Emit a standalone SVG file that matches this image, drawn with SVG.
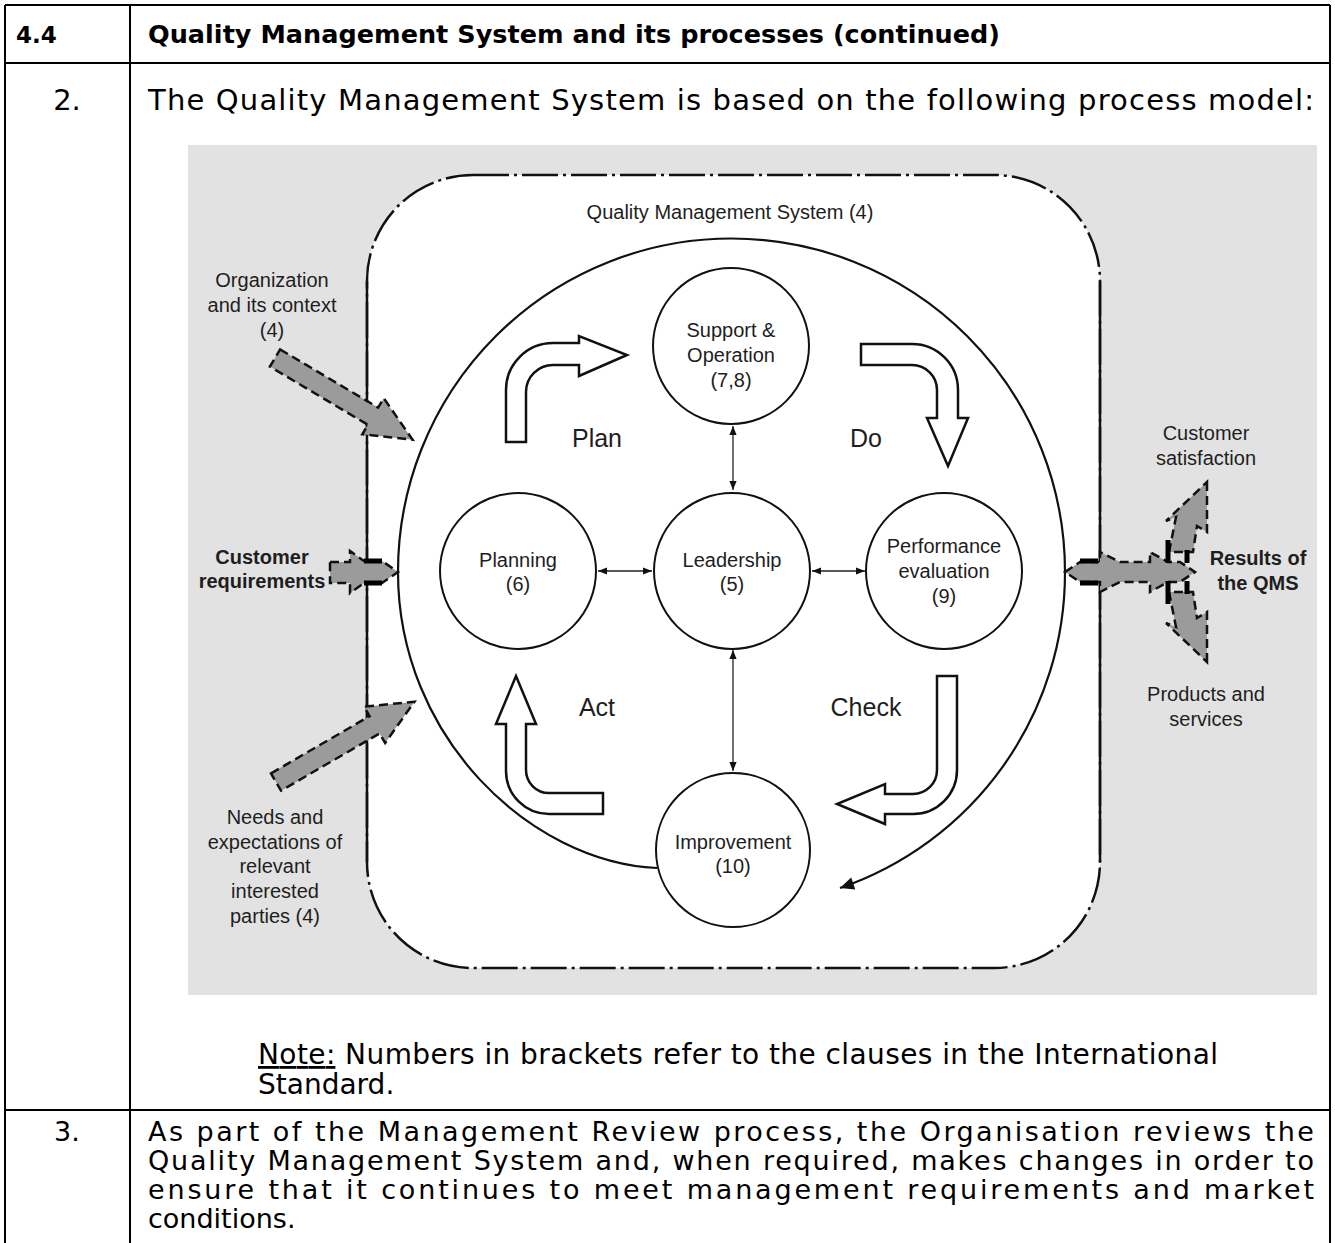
<svg xmlns="http://www.w3.org/2000/svg" width="1335" height="1243" viewBox="0 0 1335 1243">
<defs>
<style>
.tl{stroke:#000;stroke-width:2;fill:none}
.tb{font-family:"DejaVu Sans",sans-serif;font-size:27px;fill:#000}
.hd{font-family:"DejaVu Sans",sans-serif;font-size:25.5px;font-weight:bold;fill:#000}
.lb{font-family:"Liberation Sans",Arial,sans-serif;font-size:20px;fill:#1e1e1e;text-anchor:middle}
.lbb{font-family:"Liberation Sans",Arial,sans-serif;font-size:20px;fill:#1e1e1e;text-anchor:middle;font-weight:bold}
.big{font-family:"Liberation Sans",Arial,sans-serif;font-size:25px;fill:#1e1e1e;text-anchor:middle}
.nd{fill:#fff;stroke:#111;stroke-width:2}
.wa{fill:#fff;stroke:#111;stroke-width:2.5;stroke-linejoin:miter}
.ga{fill:#9b9b9b;stroke:#111;stroke-width:2.5;stroke-dasharray:9 5;stroke-linejoin:miter}
.thk{stroke:#000;stroke-width:5;fill:none}
.da{stroke:#222;stroke-width:1.3;fill:none;marker-start:url(#ah);marker-end:url(#ah)}
</style>
<marker id="ah" viewBox="0 0 10 10" refX="10" refY="5" markerWidth="9" markerHeight="9" markerUnits="userSpaceOnUse" orient="auto-start-reverse"><path d="M0,1 L10,5 L0,9 Z" fill="#111"/></marker>
<marker id="bh" viewBox="0 0 10 10" refX="10" refY="5" markerWidth="18" markerHeight="14" markerUnits="userSpaceOnUse" orient="auto"><path d="M0,0.5 L10,5 L0,9.5 Z" fill="#111"/></marker>
</defs>
<rect width="1335" height="1243" fill="#fff"/>

<g id="table">
<path class="tl" d="M5,5 H1330 M5,5 V1243 M1330,5 V1243 M130,5 V1243 M5,63 H1330 M5,1110 H1330"/>
<text class="hd" x="16" y="43" style="font-size:23px">4.4</text>
<text class="hd" x="148" y="43" textLength="852" lengthAdjust="spacing">Quality Management System and its processes (continued)</text>
<text class="tb" x="67" y="110" text-anchor="middle" style="font-size:29px">2.</text>
<text class="tb" x="148" y="110" textLength="1166" lengthAdjust="spacing" style="font-size:29px">The Quality Management System is based on the following process model:</text>
<text class="tb" x="258" y="1064" textLength="960" lengthAdjust="spacing" style="font-size:28px"><tspan style="text-decoration:underline">Note:</tspan> Numbers in brackets refer to the clauses in the International</text>
<text class="tb" x="258" y="1094" style="font-size:28px">Standard.</text>
<text class="tb" x="67" y="1141" text-anchor="middle">3.</text>
<text class="tb" x="148" y="1141" textLength="1166" lengthAdjust="spacing">As part of the Management Review process, the Organisation reviews the</text>
<text class="tb" x="148" y="1170" textLength="1166" lengthAdjust="spacing">Quality Management System and, when required, makes changes in order to</text>
<text class="tb" x="148" y="1199" textLength="1166" lengthAdjust="spacing">ensure that it continues to meet management requirements and market</text>
<text class="tb" x="148" y="1228">conditions.</text>
</g>

<g id="background">
<rect x="188" y="145" width="1129" height="850" fill="#e2e2e2"/>
</g>

<g id="qms">
<rect x="367" y="175" width="733" height="793" rx="106" fill="#fff" stroke="#111" stroke-width="2.5" stroke-dasharray="36 5 3 5"/>
<path d="M367,281 V862 M1100,281 V862" stroke="#111" stroke-width="2.5"/>
<text class="lb" x="730" y="219">Quality Management System (4)</text>
</g>

<g id="connectors">
<path d="M657,868 C530,862 398,737 398,572 A333.5,333.5 0 0 1 1065,572 A333.5,333.5 0 0 1 840,888" fill="none" stroke="#111" stroke-width="2.2" marker-end="url(#bh)"/>
<line class="da" x1="733" y1="426" x2="733" y2="490"/>
<line class="da" x1="598" y1="571" x2="652" y2="571"/>
<line class="da" x1="812" y1="571" x2="865" y2="571"/>
<line class="da" x1="733" y1="650" x2="733" y2="771"/>
</g>

<g id="support">
<circle class="nd" cx="731" cy="346" r="78"/>
<text class="lb" x="731" y="337">Support &amp;</text>
<text class="lb" x="731" y="362">Operation</text>
<text class="lb" x="731" y="387">(7,8)</text>
</g>
<g id="planning">
<circle class="nd" cx="518" cy="571" r="78"/>
<text class="lb" x="518" y="567">Planning</text>
<text class="lb" x="518" y="591">(6)</text>
</g>
<g id="leadership">
<circle class="nd" cx="732" cy="571" r="78"/>
<text class="lb" x="732" y="567">Leadership</text>
<text class="lb" x="732" y="591">(5)</text>
</g>
<g id="performance">
<circle class="nd" cx="944" cy="571" r="78"/>
<text class="lb" x="944" y="553">Performance</text>
<text class="lb" x="944" y="578">evaluation</text>
<text class="lb" x="944" y="603">(9)</text>
</g>
<g id="improvement">
<circle class="nd" cx="733" cy="850" r="77"/>
<text class="lb" x="733" y="849">Improvement</text>
<text class="lb" x="733" y="873">(10)</text>
</g>

<g id="pdca">
<path class="wa" d="M506,442 L506,390 A47,47 0 0 1 553,343 L579,343 L579,336 L627,355 L579,376 L579,365 L553,365 A27,27 0 0 0 526,392 L526,442 Z"/>
<path class="wa" d="M861,344 L912,344 A46,46 0 0 1 958,390 L958,418 L968,418 L948,466 L927,418 L937,418 L937,390 A25,25 0 0 0 912,365 L861,365 Z"/>
<path class="wa" d="M937,676 L957,676 L957,770 A44,44 0 0 1 913,814 L885,814 L885,824 L837,804 L885,784 L885,794 L913,794 A24,24 0 0 0 937,770 Z"/>
<path class="wa" d="M516,676 L536,724 L526,724 L526,770 A23,23 0 0 0 549,793 L603,793 L603,814 L549,814 A43,43 0 0 1 506,771 L506,724 L496,724 Z"/>
<text class="big" x="597" y="447">Plan</text>
<text class="big" x="866" y="447">Do</text>
<text class="big" x="597" y="716">Act</text>
<text class="big" x="866" y="716">Check</text>
</g>

<g id="input-context">
<polygon class="ga" transform="translate(275,358) rotate(30.7)" points="0,-10 114,-10 114,-21 160,0 114,21 114,10 0,10"/>
<text class="lb" x="272" y="287">Organization</text>
<text class="lb" x="272" y="312">and its context</text>
<text class="lb" x="272" y="337">(4)</text>
</g>

<g id="input-customer">
<polygon class="ga" points="330,562 350,562 350,551 364,561 382,561 398,572 382,583 364,583 350,593 350,583 330,583"/>
<path class="thk" d="M364,561 H382 M364,583 H382"/>
<text class="lbb" x="262" y="564">Customer</text>
<text class="lbb" x="262" y="588">requirements</text>
</g>

<g id="input-needs">
<polygon class="ga" transform="translate(276,782) rotate(-30.1)" points="0,-10 114,-10 114,-21 160,0 114,21 114,10 0,10"/>
<text class="lb" x="275" y="824">Needs and</text>
<text class="lb" x="275" y="849">expectations of</text>
<text class="lb" x="275" y="873">relevant</text>
<text class="lb" x="275" y="898">interested</text>
<text class="lb" x="275" y="923">parties (4)</text>
</g>

<g id="results">
<polygon class="ga" points="1207,482 1207,532 1197,526 1193,552 1169,552 1176,517 1166,521"/>
<polygon class="ga" points="1207,662 1207,612 1197,618 1193,592 1169,592 1176,627 1166,623"/>
<polygon class="ga" points="1065,572 1080,562 1100,562 1100,552 1120,562 1150,562 1150,552 1168,562 1180,562 1195,572 1180,582 1168,582 1150,592 1150,582 1120,582 1100,592 1100,582 1080,582"/>
<path class="thk" d="M1080,561 H1098 M1080,583 H1098 M1168,540 V563 M1168,581 V604 M1187,550 V563 M1187,581 V594"/>
<text class="lb" x="1206" y="440">Customer</text>
<text class="lb" x="1206" y="465">satisfaction</text>
<text class="lbb" x="1258" y="565">Results of</text>
<text class="lbb" x="1258" y="590">the QMS</text>
<text class="lb" x="1206" y="701">Products and</text>
<text class="lb" x="1206" y="726">services</text>
</g>
</svg>
